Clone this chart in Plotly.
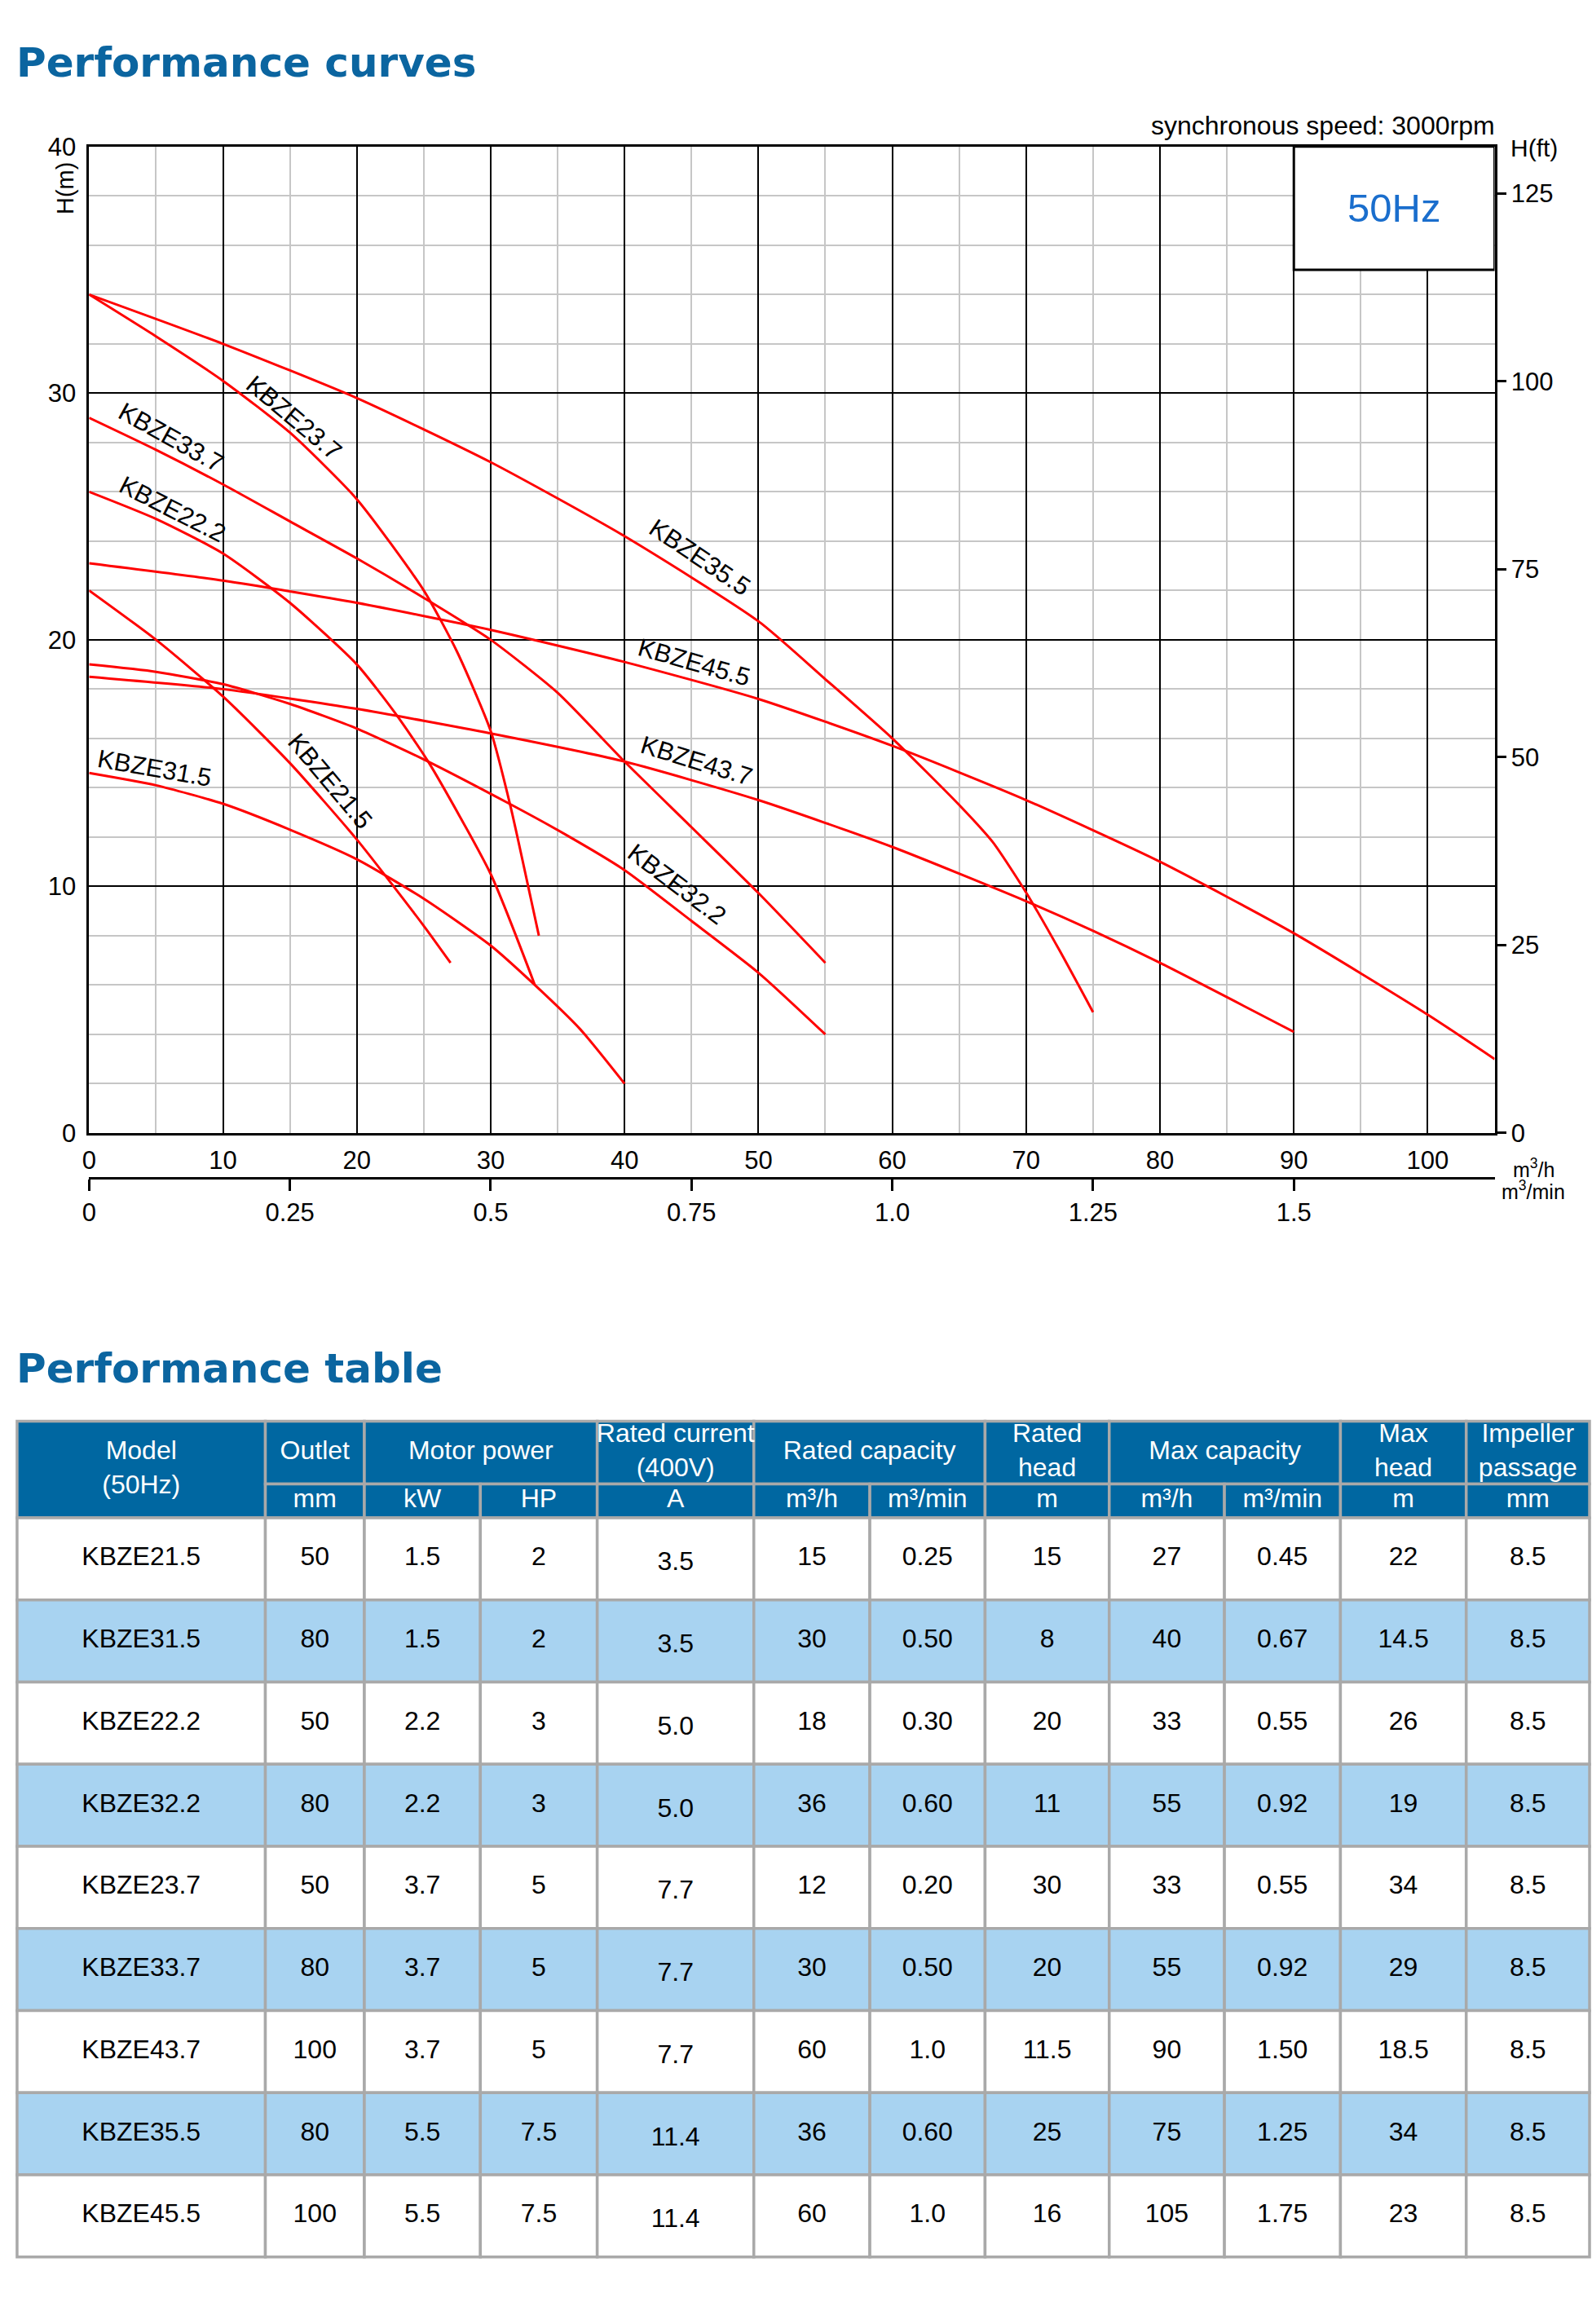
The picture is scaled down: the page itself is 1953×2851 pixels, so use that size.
import plotly.graph_objects as go

W, H = 1953, 2851

# ---------------- performance curves (Q in m3/h, H in m) ----------------
q_21_5 = [0, 5, 10, 15, 20, 25, 27]
h_21_5 = [22.0, 20.0, 17.7, 15.0, 11.9, 8.4, 6.9]

q_31_5 = [0, 5, 10, 15, 20, 25, 30, 33.3, 36.7, 40]
h_31_5 = [14.6, 14.1, 13.35, 12.3, 11.1, 9.5, 7.6, 6.0, 4.2, 2.0]

q_22_2 = [0, 5, 10, 15, 20, 22.9, 25.4, 30, 33.3]
h_22_2 = [26.0, 24.9, 23.5, 21.5, 19.0, 17.0, 15.0, 10.5, 6.0]

q_32_2 = [0, 5, 10, 15, 20, 25, 31.4, 35.6, 40, 45, 50, 55]
h_32_2 = [19.0, 18.7, 18.2, 17.4, 16.4, 15.15, 13.35, 12.1, 10.66, 8.6, 6.5, 4.0]

q_23_7 = [0, 5, 10, 15, 20, 25, 27.5, 30, 31.5, 33, 33.6]
h_23_7 = [34.0, 32.3, 30.5, 28.4, 25.7, 22.0, 19.5, 16.3, 13.2, 9.5, 8.0]

q_33_7 = [0, 5, 10, 15, 20, 25, 30, 35, 40, 45, 50, 55]
h_33_7 = [29.0, 27.7, 26.3, 24.8, 23.3, 21.7, 20.0, 17.85, 15.06, 12.4, 9.73, 6.9]

q_43_7 = [0, 10, 20, 30, 40, 50, 60, 70, 75, 80, 90]
h_43_7 = [18.5, 18.0, 17.2, 16.2, 15.06, 13.5, 11.6, 9.4, 8.2, 6.9, 4.1]

q_35_5 = [0, 10, 20, 30, 40, 50, 55, 60, 65, 67.5, 70, 72.5, 75]
h_35_5 = [34.0, 32.0, 29.8, 27.2, 24.2, 20.75, 18.4, 16.0, 13.3, 11.8, 9.75, 7.4, 4.9]

q_45_5 = [0, 10, 20, 30, 40, 50, 60, 70, 80, 90, 100, 105]
h_45_5 = [23.1, 22.4, 21.5, 20.4, 19.1, 17.6, 15.7, 13.5, 11.0, 8.1, 4.8, 3.0]

curves = [
    ("KBZE21.5", q_21_5, h_21_5),
    ("KBZE31.5", q_31_5, h_31_5),
    ("KBZE22.2", q_22_2, h_22_2),
    ("KBZE32.2", q_32_2, h_32_2),
    ("KBZE23.7", q_23_7, h_23_7),
    ("KBZE33.7", q_33_7, h_33_7),
    ("KBZE43.7", q_43_7, h_43_7),
    ("KBZE35.5", q_35_5, h_35_5),
    ("KBZE45.5", q_45_5, h_45_5),
]

# curve label placement (data coords) and text angle
label_pos = {
    "KBZE23.7": (15.3, 29.0, 40),
    "KBZE33.7": (6.1, 28.2, 29),
    "KBZE22.2": (6.2, 25.3, 27),
    "KBZE35.5": (45.6, 23.35, 34),
    "KBZE45.5": (45.2, 19.1, 16),
    "KBZE43.7": (45.4, 15.1, 17),
    "KBZE32.2": (43.9, 10.1, 37),
    "KBZE31.5": (4.9, 14.8, 10),
    "KBZE21.5": (18.0, 14.25, 50),
}

ft_ticks = [0, 25, 50, 75, 100, 125]
qmin_ticks = [0, 0.25, 0.5, 0.75, 1.0, 1.25, 1.5]
qmin_labels = ["0", "0.25", "0.5", "0.75", "1.0", "1.25", "1.5"]

# ---------------- performance table ----------------
models = ["KBZE21.5", "KBZE31.5", "KBZE22.2", "KBZE32.2", "KBZE23.7",
          "KBZE33.7", "KBZE43.7", "KBZE35.5", "KBZE45.5"]
outlet = ["50", "80", "50", "80", "50", "80", "100", "80", "100"]
power_kw = ["1.5", "1.5", "2.2", "2.2", "3.7", "3.7", "3.7", "5.5", "5.5"]
power_hp = ["2", "2", "3", "3", "5", "5", "5", "7.5", "7.5"]
current = ["3.5", "3.5", "5.0", "5.0", "7.7", "7.7", "7.7", "11.4", "11.4"]
rated_qh = ["15", "30", "18", "36", "12", "30", "60", "36", "60"]
rated_qmin = ["0.25", "0.50", "0.30", "0.60", "0.20", "0.50", "1.0", "0.60", "1.0"]
rated_head = ["15", "8", "20", "11", "30", "20", "11.5", "25", "16"]
max_qh = ["27", "40", "33", "55", "33", "55", "90", "75", "105"]
max_qmin = ["0.45", "0.67", "0.55", "0.92", "0.55", "0.92", "1.50", "1.25", "1.75"]
max_head = ["22", "14.5", "26", "19", "34", "29", "18.5", "34", "23"]
passage = ["8.5"] * 9

columns = [models, outlet, power_kw, power_hp, current, rated_qh, rated_qmin,
           rated_head, max_qh, max_qmin, max_head, passage]

# top header: (text, first col, last col, spans both header rows)
top_header = [
    ("Model<br>(50Hz)", 0, 0, True),
    ("Outlet", 1, 1, False),
    ("Motor power", 2, 3, False),
    ("Rated current<br>(400V)", 4, 4, False),
    ("Rated capacity", 5, 6, False),
    ("Rated<br>head", 7, 7, False),
    ("Max capacity", 8, 9, False),
    ("Max<br>head", 10, 10, False),
    ("Impeller<br>passage", 11, 11, False),
]
sub_header = [None, "mm", "kW", "HP", "A", "m³/h", "m³/min", "m", "m³/h", "m³/min", "m", "mm"]

# ---------------- styling ----------------
FONT = "Liberation Sans, Arial, sans-serif"
TITLE_FONT = "DejaVu Sans, Liberation Sans, sans-serif"
TITLE_BLUE = "#0b65a0"
HEAD_BLUE = "#0067a1"
BAND_BLUE = "#a8d3f1"
CELL_LINE = "#a9a9a9"
RED = "#ff0000"

col_edges = [12, 318, 440, 583, 727, 920, 1063, 1205, 1358, 1500, 1643, 1798, 1950]
table_top = 1748
head1_h = 78
head2_h = 42
row_h = 102

plot_l, plot_r, plot_t, plot_b = 100.8, 1833, 164.8, 1390
qmin_axis_y = 1446


def px(x):
    return x / W


def py(y):
    return 1 - y / H


fig = go.Figure()

for name, q, h in curves:
    fig.add_trace(go.Scatter(
        x=q, y=h, mode="lines", name=name,
        line=dict(color=RED, width=3, shape="spline", smoothing=0.6),
        hoverinfo="skip", showlegend=False))

# dummy traces so the secondary axes are drawn
fig.add_trace(go.Scatter(x=[0], y=[0], xaxis="x", yaxis="y2", mode="markers",
                         marker=dict(opacity=0), showlegend=False, hoverinfo="skip"))
fig.add_trace(go.Scatter(x=[0], y=[0], xaxis="x2", yaxis="y", mode="markers",
                         marker=dict(opacity=0), showlegend=False, hoverinfo="skip"))

tick_font = dict(family=FONT, size=31, color="black")

fig.update_layout(
    width=W, height=H,
    margin=dict(l=0, r=0, t=0, b=0),
    paper_bgcolor="white", plot_bgcolor="white",
    showlegend=False,
    xaxis=dict(
        domain=[px(plot_l), px(plot_r)], range=[0, 105],
        tick0=0, dtick=10, ticks="", tickfont=tick_font, ticklabelstandoff=4,
        showgrid=True, gridcolor="black", gridwidth=2,
        minor=dict(tick0=0, dtick=5, showgrid=True, gridcolor="#c6c6c6", gridwidth=1.5),
        showline=True, linecolor="black", linewidth=3, mirror=True,
        zeroline=False, fixedrange=True),
    yaxis=dict(
        domain=[py(plot_b), py(plot_t)], range=[0, 40],
        tick0=0, dtick=10, ticks="", tickfont=tick_font, ticklabelstandoff=7,
        showgrid=True, gridcolor="black", gridwidth=2,
        minor=dict(tick0=0, dtick=2, showgrid=True, gridcolor="#c6c6c6", gridwidth=1.5),
        showline=True, linecolor="black", linewidth=3, mirror=True,
        zeroline=False, fixedrange=True),
    yaxis2=dict(
        overlaying="y", side="right", anchor="x", range=[0, 40 * 3.28084],
        tickvals=ft_ticks, ticks="outside", ticklen=13, tickwidth=2.5,
        tickcolor="black", tickfont=tick_font, showgrid=False, zeroline=False,
        showline=False, fixedrange=True),
    xaxis2=dict(
        overlaying="x", anchor="free", position=py(qmin_axis_y), side="bottom",
        range=[0, 105 / 60], tickvals=qmin_ticks, ticktext=qmin_labels,
        ticks="outside", ticklen=14, tickwidth=2.5, tickcolor="black",
        tickfont=tick_font, showgrid=False, zeroline=False,
        showline=True, linecolor="black", linewidth=3, fixedrange=True),
    xaxis3=dict(domain=[0, 1], range=[0, W], visible=False, anchor="y3", fixedrange=True),
    yaxis3=dict(domain=[0, py(1700)], range=[H, 1700], visible=False, anchor="x3",
                fixedrange=True),
)

# 50Hz box in the top right corner of the grid
fig.add_shape(type="rect", xref="x", yref="y", x0=90, x1=105, y0=35, y1=40,
              fillcolor="white", line=dict(color="black", width=3), layer="above")
fig.add_annotation(x=97.5, y=37.5, xref="x", yref="y", text="50Hz", showarrow=False,
                   xanchor="center", yanchor="middle",
                   font=dict(family=FONT, size=49, color="#1a6ecd"))

for name, q, h in curves:
    lx, ly, ang = label_pos[name]
    fig.add_annotation(x=lx, y=ly, xref="x", yref="y", text=name, showarrow=False,
                       xanchor="center", yanchor="middle", textangle=ang,
                       font=dict(family=FONT, size=31, color="black"))


def note(x, y, text, size, xanchor="center", angle=0, color="black", family=FONT):
    fig.add_annotation(x=px(x), y=py(y), xref="paper", yref="paper", text=text,
                       xanchor=xanchor, yanchor="middle", textangle=angle,
                       showarrow=False, font=dict(family=family, size=size, color=color))


note(9, 61, "<b>Performance curves</b>", 50, xanchor="left", color=TITLE_BLUE, family=TITLE_FONT)
note(9, 1683, "<b>Performance table</b>", 50, xanchor="left", color=TITLE_BLUE, family=TITLE_FONT)
note(1835, 139, "synchronous speed: 3000rpm", 32, xanchor="right")
note(1882, 167, "H(ft)", 30)
note(72, 217, "H(m)", 29, angle=-90)
note(1881, 1434, "m<sup>3</sup>/h", 25)
note(1881, 1461, "m<sup>3</sup>/min", 25)

# ---------------- table cells ----------------
tx, ty, tt, tc = [], [], [], []


def cell(x0, x1, y0, y1, fill):
    fig.add_shape(type="rect", xref="x3", yref="y3", x0=x0, x1=x1, y0=y0, y1=y1,
                  fillcolor=fill, line=dict(color=CELL_LINE, width=3.5), layer="below")


h1_top = table_top
h2_top = table_top + head1_h
body_top = h2_top + head2_h

for text, c0, c1, both in top_header:
    x0, x1 = col_edges[c0], col_edges[c1 + 1]
    y1 = body_top if both else h2_top
    cell(x0, x1, h1_top, y1, HEAD_BLUE)
    tx.append((x0 + x1) / 2)
    ty.append((h1_top + y1) / 2)
    tt.append(text)
    tc.append("white")

for i, text in enumerate(sub_header):
    if text is None:
        continue
    x0, x1 = col_edges[i], col_edges[i + 1]
    cell(x0, x1, h2_top, body_top, HEAD_BLUE)
    tx.append((x0 + x1) / 2)
    ty.append((h2_top + body_top) / 2)
    tt.append(text)
    tc.append("white")

for r in range(len(models)):
    y0 = body_top + r * row_h
    fill = "white" if r % 2 == 0 else BAND_BLUE
    for c, col in enumerate(columns):
        x0, x1 = col_edges[c], col_edges[c + 1]
        cell(x0, x1, y0, y0 + row_h, fill)
        tx.append((x0 + x1) / 2)
        ty.append(y0 + row_h / 2 + (6 if c == 4 else 0))
        tt.append(col[r])
        tc.append("black")

fig.add_trace(go.Scatter(
    x=tx, y=ty, text=tt, mode="text", xaxis="x3", yaxis="y3",
    textposition="middle center", cliponaxis=False,
    textfont=dict(family=FONT, size=32, color=tc),
    hoverinfo="skip", showlegend=False))

fig.write_html("out.html", config={"displayModeBar": False},
               post_script="document.body.style.margin='0px';")
